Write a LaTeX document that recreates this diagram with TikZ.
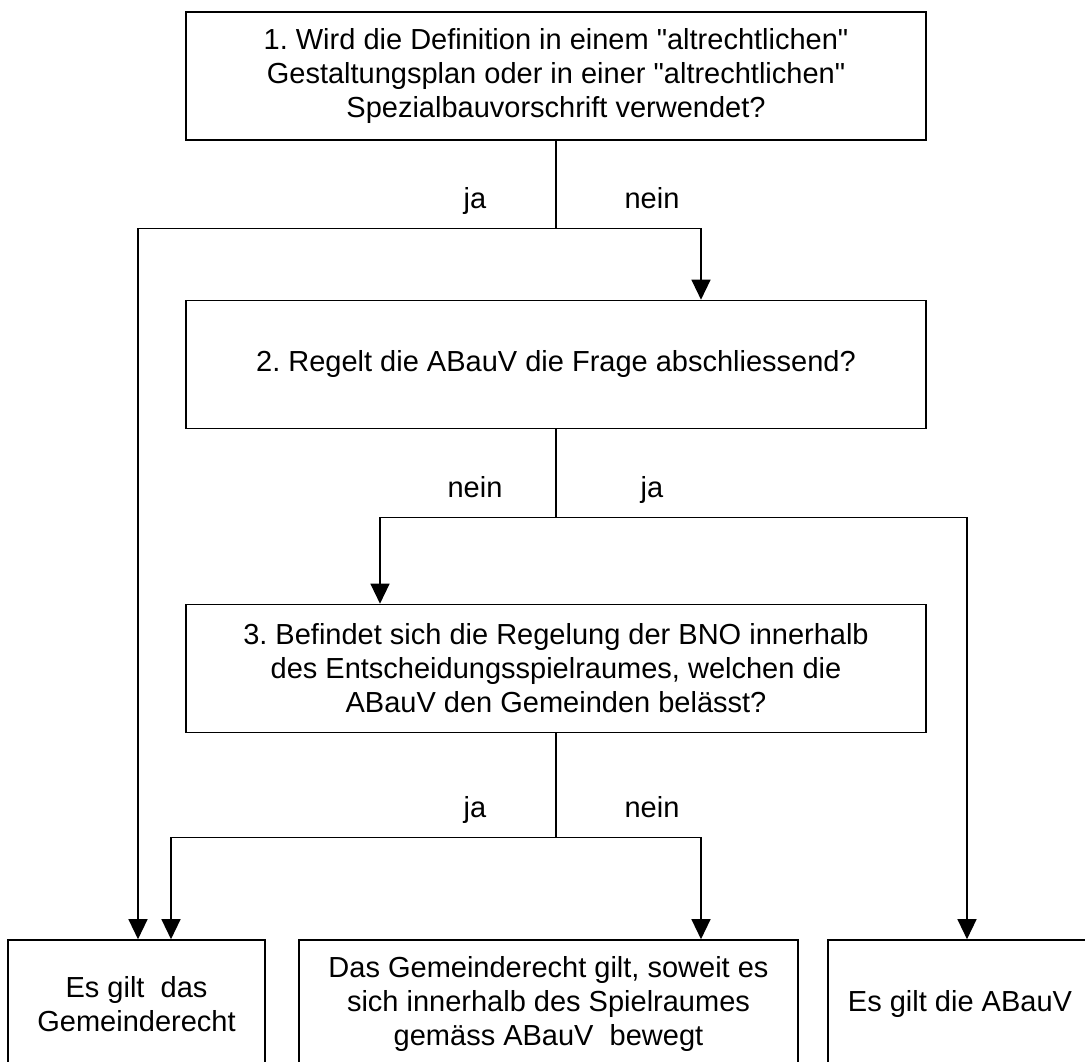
\documentclass[tikz,border=0pt]{standalone}
\usepackage{fontspec}
\setmainfont{Liberation Sans}[Ligatures=TeXOff]
\usetikzlibrary{arrows.meta, positioning}
\definecolor{linienfarbe}{HTML}{000000}
\tikzset{
  kastenBasis/.style={
    draw=linienfarbe, line width=1.6pt,
    minimum height=128pt, inner sep=0pt,
    align=center, font=\fontsize{29}{34}\selectfont,
    fill=white
  },
  kastenFrage/.style={kastenBasis, minimum width=740pt},
  kastenErgebnis/.style={kastenBasis},
  linie/.style={line width=1.3pt, linienfarbe},
  pfeil/.style={linie, -{Triangle[length=20pt, width=19pt]}},
  etikett/.style={font=\fontsize{29}{34}\selectfont, anchor=base, inner sep=0pt},
}
\frenchspacing

\begin{document}
\begin{tikzpicture}[x=1pt, y=-1pt]
    \useasboundingbox (0,0) rectangle (1085,1062);

    % Fragen
    \node[kastenFrage] (frage1) at (556,76) {1. Wird die Definition in einem "altrechtlichen"\\Gestaltungsplan oder in einer "altrechtlichen"\\Spezialbauvorschrift verwendet?};
    \node[kastenFrage] (frage2) at (556,364.5) {2. Regelt die ABauV die Frage abschliessend?};
    \node[kastenFrage] (frage3) at (556,668.5) {3. Befindet sich die Regelung der BNO innerhalb\\des Entscheidungsspielraumes, welchen die\\ABauV den Gemeinden belässt?};

    % Ergebnisse
    \node[kastenErgebnis, minimum width=257pt] (gemeinde) at (136.5,1004) {Es gilt\ \ das\\Gemeinderecht};
    \node[kastenErgebnis, minimum width=499pt] (spielraum) at (548.5,1004) {Das Gemeinderecht gilt, soweit es\\sich innerhalb des Spielraumes\\gemäss ABauV\ \ bewegt};
    \node[kastenErgebnis, minimum width=264pt] (abauv) at (960,1004) {Es gilt die ABauV};

    % Verzweigungen
    \coordinate (gabel1) at ([yshift=-88pt]frage1.south);
    \coordinate (gabel2) at ([yshift=-88.5pt]frage2.south);
    \coordinate (gabel3) at ([yshift=-104.5pt]frage3.south);

    \draw[linie] (frage1.south) -- (gabel1);
    \draw[pfeil] (gabel1) -| ([xshift=1.5pt]gemeinde.north);
    \draw[pfeil] (gabel1) -| ([xshift=145pt]frage2.north);
    \node[etikett] (ja1) at (475,208) {ja};
    \node[etikett] (nein1) at (652,208) {nein};

    \draw[linie] (frage2.south) -- (gabel2);
    \draw[pfeil] (gabel2) -| ([xshift=-176pt]frage3.north);
    \draw[pfeil] (gabel2) -| ([xshift=7pt]abauv.north);
    \node[etikett] (nein2) at (475,497) {nein};
    \node[etikett] (ja2) at (652,497) {ja};

    \draw[linie] (frage3.south) -- (gabel3);
    \draw[pfeil] (gabel3) -| ([xshift=34.5pt]gemeinde.north);
    \draw[pfeil] (gabel3) -| ([xshift=152.5pt]spielraum.north);
    \node[etikett] (ja3) at (475,817) {ja};
    \node[etikett] (nein3) at (652,817) {nein};
  \end{tikzpicture}
\end{document}
